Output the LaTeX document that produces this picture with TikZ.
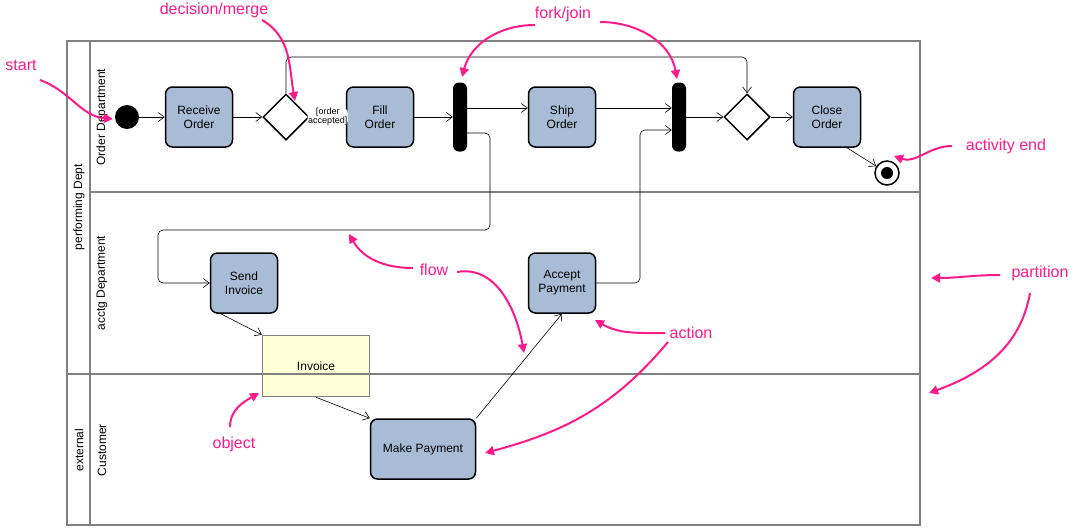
\documentclass[tikz,border=0pt]{standalone}
\usepackage{fontspec}
\setmainfont{Liberation Sans}
\usetikzlibrary{arrows.meta,shapes.geometric}
\definecolor{act}{HTML}{A9BCD6}
\definecolor{mag}{HTML}{FF1A8C}
\definecolor{lane}{HTML}{808080}
\definecolor{obj}{HTML}{FFFFD8}
\begin{document}
\begin{tikzpicture}[x=1pt,y=-1pt,
  action/.style={draw=black,line width=1.5pt,fill=act,rounded corners=7pt,minimum width=67pt,minimum height=60pt,align=center,font=\fontsize{12}{14}\selectfont,inner sep=1pt},
  dec/.style={draw=black,line width=1.5pt,fill=white,diamond,minimum width=46pt,minimum height=46pt,inner sep=0pt},
  bar/.style={fill=black,rounded corners=6pt,minimum width=14pt,minimum height=69pt,inner sep=0pt},
  flow/.style={draw=black,line width=0.6pt,-{Straight Barb[length=6pt,width=9pt]},rounded corners=5pt},
  ann/.style={text=mag,font=\fontsize{16}{18}\selectfont},
  aarr/.style={draw=mag,line width=2pt,-{Triangle[length=9pt,width=9pt]}},
  lbl/.style={font=\fontsize{12}{14}\selectfont,rotate=90}]
\useasboundingbox (0,0) rectangle (1082,528);
% partitions
\draw[lane,line width=2pt] (67,41) rectangle (920,525);
\draw[lane,line width=2pt] (90,41) -- (90,525);
\draw[lane,line width=2pt] (90,192) -- (920,192);
\node[lbl] (pd) at (79,207) {performing Dept};
\node[lbl] (ex) at (79,450) {external};
\node[lbl] (od) at (102,117) {Order Department};
\node[lbl] (ad) at (102,283) {acctg Department};
\node[lbl] (cu) at (102,450) {Customer};
% nodes
\node[circle,fill=black,minimum size=24pt,inner sep=0pt] (start) at (127,117) {};
\node[action] (ro) at (199,117) {Receive\\Order};
\node[dec] (d1) at (286,117) {};
\node[action] (fo) at (380,117) {Fill\\Order};
\node[bar] (fork) at (460,117) {};
\node[action] (so) at (562,117) {Ship\\Order};
\node[bar] (join) at (679,117) {};
\node[dec] (d2) at (747,117) {};
\node[action] (co) at (827,117) {Close\\Order};
\node[circle,draw=black,line width=1.5pt,minimum size=24pt,inner sep=0pt] (end) at (887,173) {};
\node[circle,fill=black,minimum size=12pt,inner sep=0pt] (endi) at (887,173) {};
\node[action] (si) at (244,283) {Send\\Invoice};
\node[action] (ap) at (562,283) {Accept\\Payment};
\node[action,minimum width=105pt] (mp) at (423,449) {Make Payment};
\node[draw=lane,line width=1.5pt,fill=obj,minimum width=107pt,minimum height=61pt,font=\fontsize{12}{14}\selectfont] (inv) at (316,366) {Invoice};
\draw[lane,line width=2pt] (67,374) -- (920,374);
% flows
\draw[flow] (start) -- (ro);
\draw[flow] (ro) -- (d1);
\draw[flow] (d1) -- node[font=\fontsize{9}{9}\selectfont,align=center,fill=white,inner sep=0.5pt] (g) {[order\\accepted]} (fo);
\draw[flow] (d1.north) |- (747,57) -- (d2.north);
\draw[flow] (fo) -- (fork);
\draw[flow] (fork.east |- 0,108) -- (so.west |- 0,108);
\draw[flow] (so.east |- 0,108) -- (join.west |- 0,108);
\draw[flow] (fork.east |- 0,133) -| (490,230) -| (158,283) -- (si);
\draw[flow] (si.south west) ++(11,0) -- (inv.north west);
\draw[flow] (inv.south) -- (mp.north west);
\draw[flow] (mp.north east) -- (ap.south);
\draw[flow] (ap.east) -| (640,130) -- (join.west |- 0,130);
\draw[flow] (join) -- (d2);
\draw[flow] (d2) -- (co);
\draw[flow] (co.south) ++(20,0) -- (end);
% annotations
\node[ann] (t1) at (21,65) {start};
\node[ann] (t2) at (214,10) {decision/merge};
\node[ann] (t3) at (563,14) {fork/join};
\node[ann] (t4) at (1006,146) {activity end};
\node[ann] (t5) at (434,270) {flow};
\node[ann] (t6) at (1040,273) {partition};
\node[ann] (t7) at (691,333) {action};
\node[ann] (t8) at (234,444) {object};
\draw[aarr] (40,80) to[out=-20,in=175] (113,119);
\draw[aarr] (262,20) to[out=-30,in=100] (295,101);
\draw[aarr] (535,25) to[out=180,in=75] (462,77);
\draw[aarr] (600,22) to[out=0,in=100] (677,79);
\draw[aarr] (952,146) to[out=180,in=-20] (894,156);
\draw[aarr] (413,268) to[out=180,in=-60] (349,234);
\draw[aarr] (457,272) to[out=10,in=100] (524,353);
\draw[aarr] (1000,275) to[out=180,in=0] (931,278);
\draw[aarr] (1030,293) to[out=-100,in=20] (929,393);
\draw[aarr] (665,333) to[out=180,in=-30] (595,320);
\draw[aarr] (668,342) to[out=-130,in=15] (485,453);
\draw[aarr] (230,427) to[out=90,in=-150] (259,393);
\end{tikzpicture}
\end{document}
